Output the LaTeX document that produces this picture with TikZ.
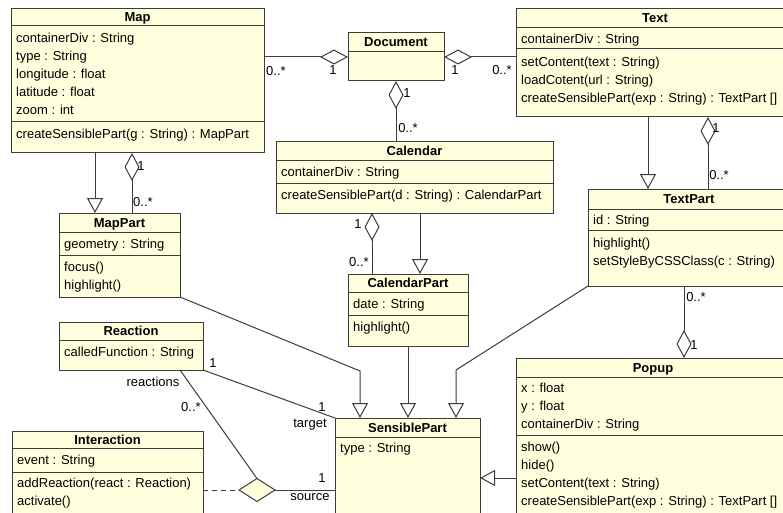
\documentclass[tikz,border=0pt]{standalone}
\usepackage{fontspec}
\setmainfont{Liberation Sans}
\usetikzlibrary{positioning, arrows.meta, calc, shapes.geometric}
\definecolor{umlfill}{RGB}{255,255,222}
\definecolor{umlline}{RGB}{60,60,60}
\tikzset{
  classbox/.style = {
    shape = rectangle,
    draw = umlline,
    fill = umlfill,
    line width = 1pt,
    anchor = north west,
    inner sep = 0pt,
    outer sep = 0pt,
  },
  classname/.style = {font = \fontsize{13}{16}\selectfont\bfseries, anchor = base, inner sep = 0pt},
  classline/.style = {draw = umlline, line width = 1pt},
  member/.style = {anchor = base west, inner sep = 0pt},
  multlabel/.style = {inner sep = 0pt},
  ternary/.style = {
    shape = diamond,
    draw = umlline,
    fill = umlfill,
    line width = 1pt,
    minimum width = 36pt,
    minimum height = 23pt,
    inner sep = 0pt,
    outer sep = 0pt,
  }
}
\tikzset{
  gen/.style = {
    draw = umlline, line width = 1pt, -{Triangle[open, length = 15pt, width = 16pt]},
  },
  aggr/.style = {
    draw = umlline, line width = 1pt, -{Diamond[open, length = 28pt, width = 15pt]},
  },
  assoc/.style = {draw = umlline, line width = 1pt},
}
% class box: name, x, y, width, height, title, title bar height
\newcommand{\umlclass}[7]{%
  \node[classbox, minimum width = #4pt, minimum height = #5pt] (#1) at (#2,#3) {};
  \node[classname] (#1-t) at ($(#1.north)+(0,#7/2+4.5)$) {#6};
  \classrule{#1}{#7}}
\newcommand{\classrule}[2]{%
  \draw[classline] ($(#1.north west)+(0,#2)$) -- ($(#1.north east)+(0,#2)$);}
% rows of a compartment: box, part, first baseline, rows
\newcommand{\members}[4]{%
  \foreach \txt [count=\i from 0] in {#4}
    \node[member] (#1-#2\i) at ($(#1.north west)+(5,#3+18*\i)$) {\txt};}

\begin{document}
\begin{tikzpicture}[x = 1pt, y = -1pt, font = \fontsize{13}{16}\selectfont]
  \useasboundingbox (0,0) rectangle (783,513);
  \clip (0,0) rectangle (783,513);
  % classes
  \umlclass{map}{11}{9}{253}{144}{Map}{17}
  \classrule{map}{113}
  \members{map}{a}{33.5}{containerDiv : String, type : String, longitude : float, latitude : float, zoom : int}
  \members{map}{m}{129.5}{createSensiblePart(g : String) : MapPart}

  \umlclass{doc}{348}{33}{96}{48}{Document}{19}

  \umlclass{text}{516}{9}{278}{108}{Text}{19}
  \classrule{text}{40}
  \members{text}{a}{34.5}{containerDiv : String}
  \members{text}{m}{57.5}{setContent(text : String), loadCotent(url : String), createSensiblePart(exp : String) : TextPart []}

  \umlclass{cal}{276}{142}{277}{71}{Calendar}{18}
  \classrule{cal}{41}
  \members{cal}{a}{34.5}{containerDiv : String}
  \members{cal}{m}{57.5}{createSensiblePart(d : String) : CalendarPart}

  \umlclass{calpart}{348}{274}{120}{72}{CalendarPart}{18}
  \classrule{calpart}{41}
  \members{calpart}{a}{34.5}{date : String}
  \members{calpart}{m}{57.5}{highlight()}

  \umlclass{textpart}{588}{189}{202}{97}{TextPart}{20}
  \classrule{textpart}{41}
  \members{textpart}{a}{35.5}{id : String}
  \members{textpart}{m}{58.5}{highlight(), setStyleByCSSClass(c : String)}

  \umlclass{mappart}{59}{213}{121}{84}{MapPart}{19}
  \classrule{mappart}{42}
  \members{mappart}{a}{35.5}{geometry : String}
  \members{mappart}{m}{58.5}{focus(), highlight()}

  \umlclass{reaction}{59}{322}{144}{48}{Reaction}{18}
  \members{reaction}{a}{34.5}{calledFunction : String}

  \umlclass{inter}{12}{431}{191}{89}{Interaction}{17}
  \classrule{inter}{41}
  \members{inter}{a}{33.5}{event : String}
  \members{inter}{m}{56.5}{addReaction(react : Reaction), activate()}

  \umlclass{sens}{335}{418}{145}{102}{SensiblePart}{19}
  \members{sens}{a}{34.5}{type : String}

  \umlclass{popup}{516}{358}{274}{162}{Popup}{19}
  \classrule{popup}{77}
  \members{popup}{a}{34.5}{x : float, y : float, containerDiv : String}
  \members{popup}{m}{93.5}{show(), hide(), setContent(text : String), createSensiblePart(exp : String) : TextPart []}

  % aggregations
  \draw[aggr] (map.east |- doc.west) -- (doc.west);
  \draw[aggr] (text.west |- doc.east) -- (doc.east);
  \draw[aggr] (doc.south |- cal.north) -- (doc.south);
  \coordinate (mp2) at ($(mappart.north west)+(73,0)$);
  \draw[aggr] (mp2) -- (mp2 |- map.south);
  \coordinate (cp2) at ($(calpart.north west)+(24,0)$);
  \draw[aggr] (cp2) -- (cp2 |- cal.south);
  \coordinate (tp2) at ($(textpart.north west)+(120,0)$);
  \draw[aggr] (tp2) -- (tp2 |- text.south);
  \coordinate (tp3) at ($(textpart.south west)+(96,0)$);
  \draw[aggr] (tp3) -- (tp3 |- popup.north);

  % generalizations
  \coordinate (mp1) at ($(mappart.north west)+(36,0)$);
  \draw[gen] (mp1 |- map.south) -- (mp1);
  \coordinate (cp1) at ($(calpart.north west)+(72,0)$);
  \draw[gen] (cp1 |- cal.south) -- (cp1);
  \coordinate (tp1) at ($(textpart.north west)+(60,0)$);
  \draw[gen] (tp1 |- text.south) -- (tp1);
  \draw[gen] (calpart.south) -- (calpart.south |- sens.north);
  \coordinate (sp1) at ($(sens.north west)+(25,0)$);
  \draw[gen] (mappart.south east) -- ($(sp1)+(0,-47)$) -- (sp1);
  \coordinate (sp2) at ($(sens.north east)+(-24,0)$);
  \draw[gen] (textpart.south west) -- ($(sp2)+(0,-48)$) -- (sp2);
  \coordinate (pp) at ($(popup.north west)+(0,120)$);
  \draw[gen] (pp) -- (pp -| sens.east);

  % associations
  \draw[assoc] (reaction.south east) -- (sens.north west);
  \node[ternary] (tern) at (257,490) {};
  \draw[assoc] (tern.east) -- (tern.east -| sens.west);
  \draw[assoc, dash pattern = on 5pt off 4pt] (inter.east |- tern.west) -- (tern.west);
  \coordinate (rc) at ($(reaction.south west)+(121,0)$);
  \draw[assoc] (rc) -- (tern.north);

  % multiplicities and roles
  \node[multlabel] (l1) at (276,71) {0..*};
  \node[multlabel] (l2) at (333,70) {1};
  \node[multlabel] (l3) at (455,70) {1};
  \node[multlabel] (l4) at (502,70) {0..*};
  \node[multlabel] (l5) at (407,93) {1};
  \node[multlabel] (l6) at (408,128) {0..*};
  \node[multlabel] (l7) at (141,166) {1};
  \node[multlabel] (l8) at (143,202) {0..*};
  \node[multlabel] (l9) at (358,224) {1};
  \node[multlabel] (l10) at (359,262) {0..*};
  \node[multlabel] (l11) at (716,128) {1};
  \node[multlabel] (l12) at (719,175) {0..*};
  \node[multlabel] (l13) at (696,297) {0..*};
  \node[multlabel] (l14) at (694,345) {1};
  \node[multlabel] (l15) at (213,363) {1};
  \node[multlabel] (l16) at (153,382) {reactions};
  \node[multlabel] (l17) at (191,407) {0..*};
  \node[multlabel] (l18) at (322,407) {1};
  \node[multlabel] (l19) at (310,425) {target};
  \node[multlabel] (l20) at (322,478) {1};
  \node[multlabel] (l21) at (310,497) {source};
\end{tikzpicture}
\end{document}
